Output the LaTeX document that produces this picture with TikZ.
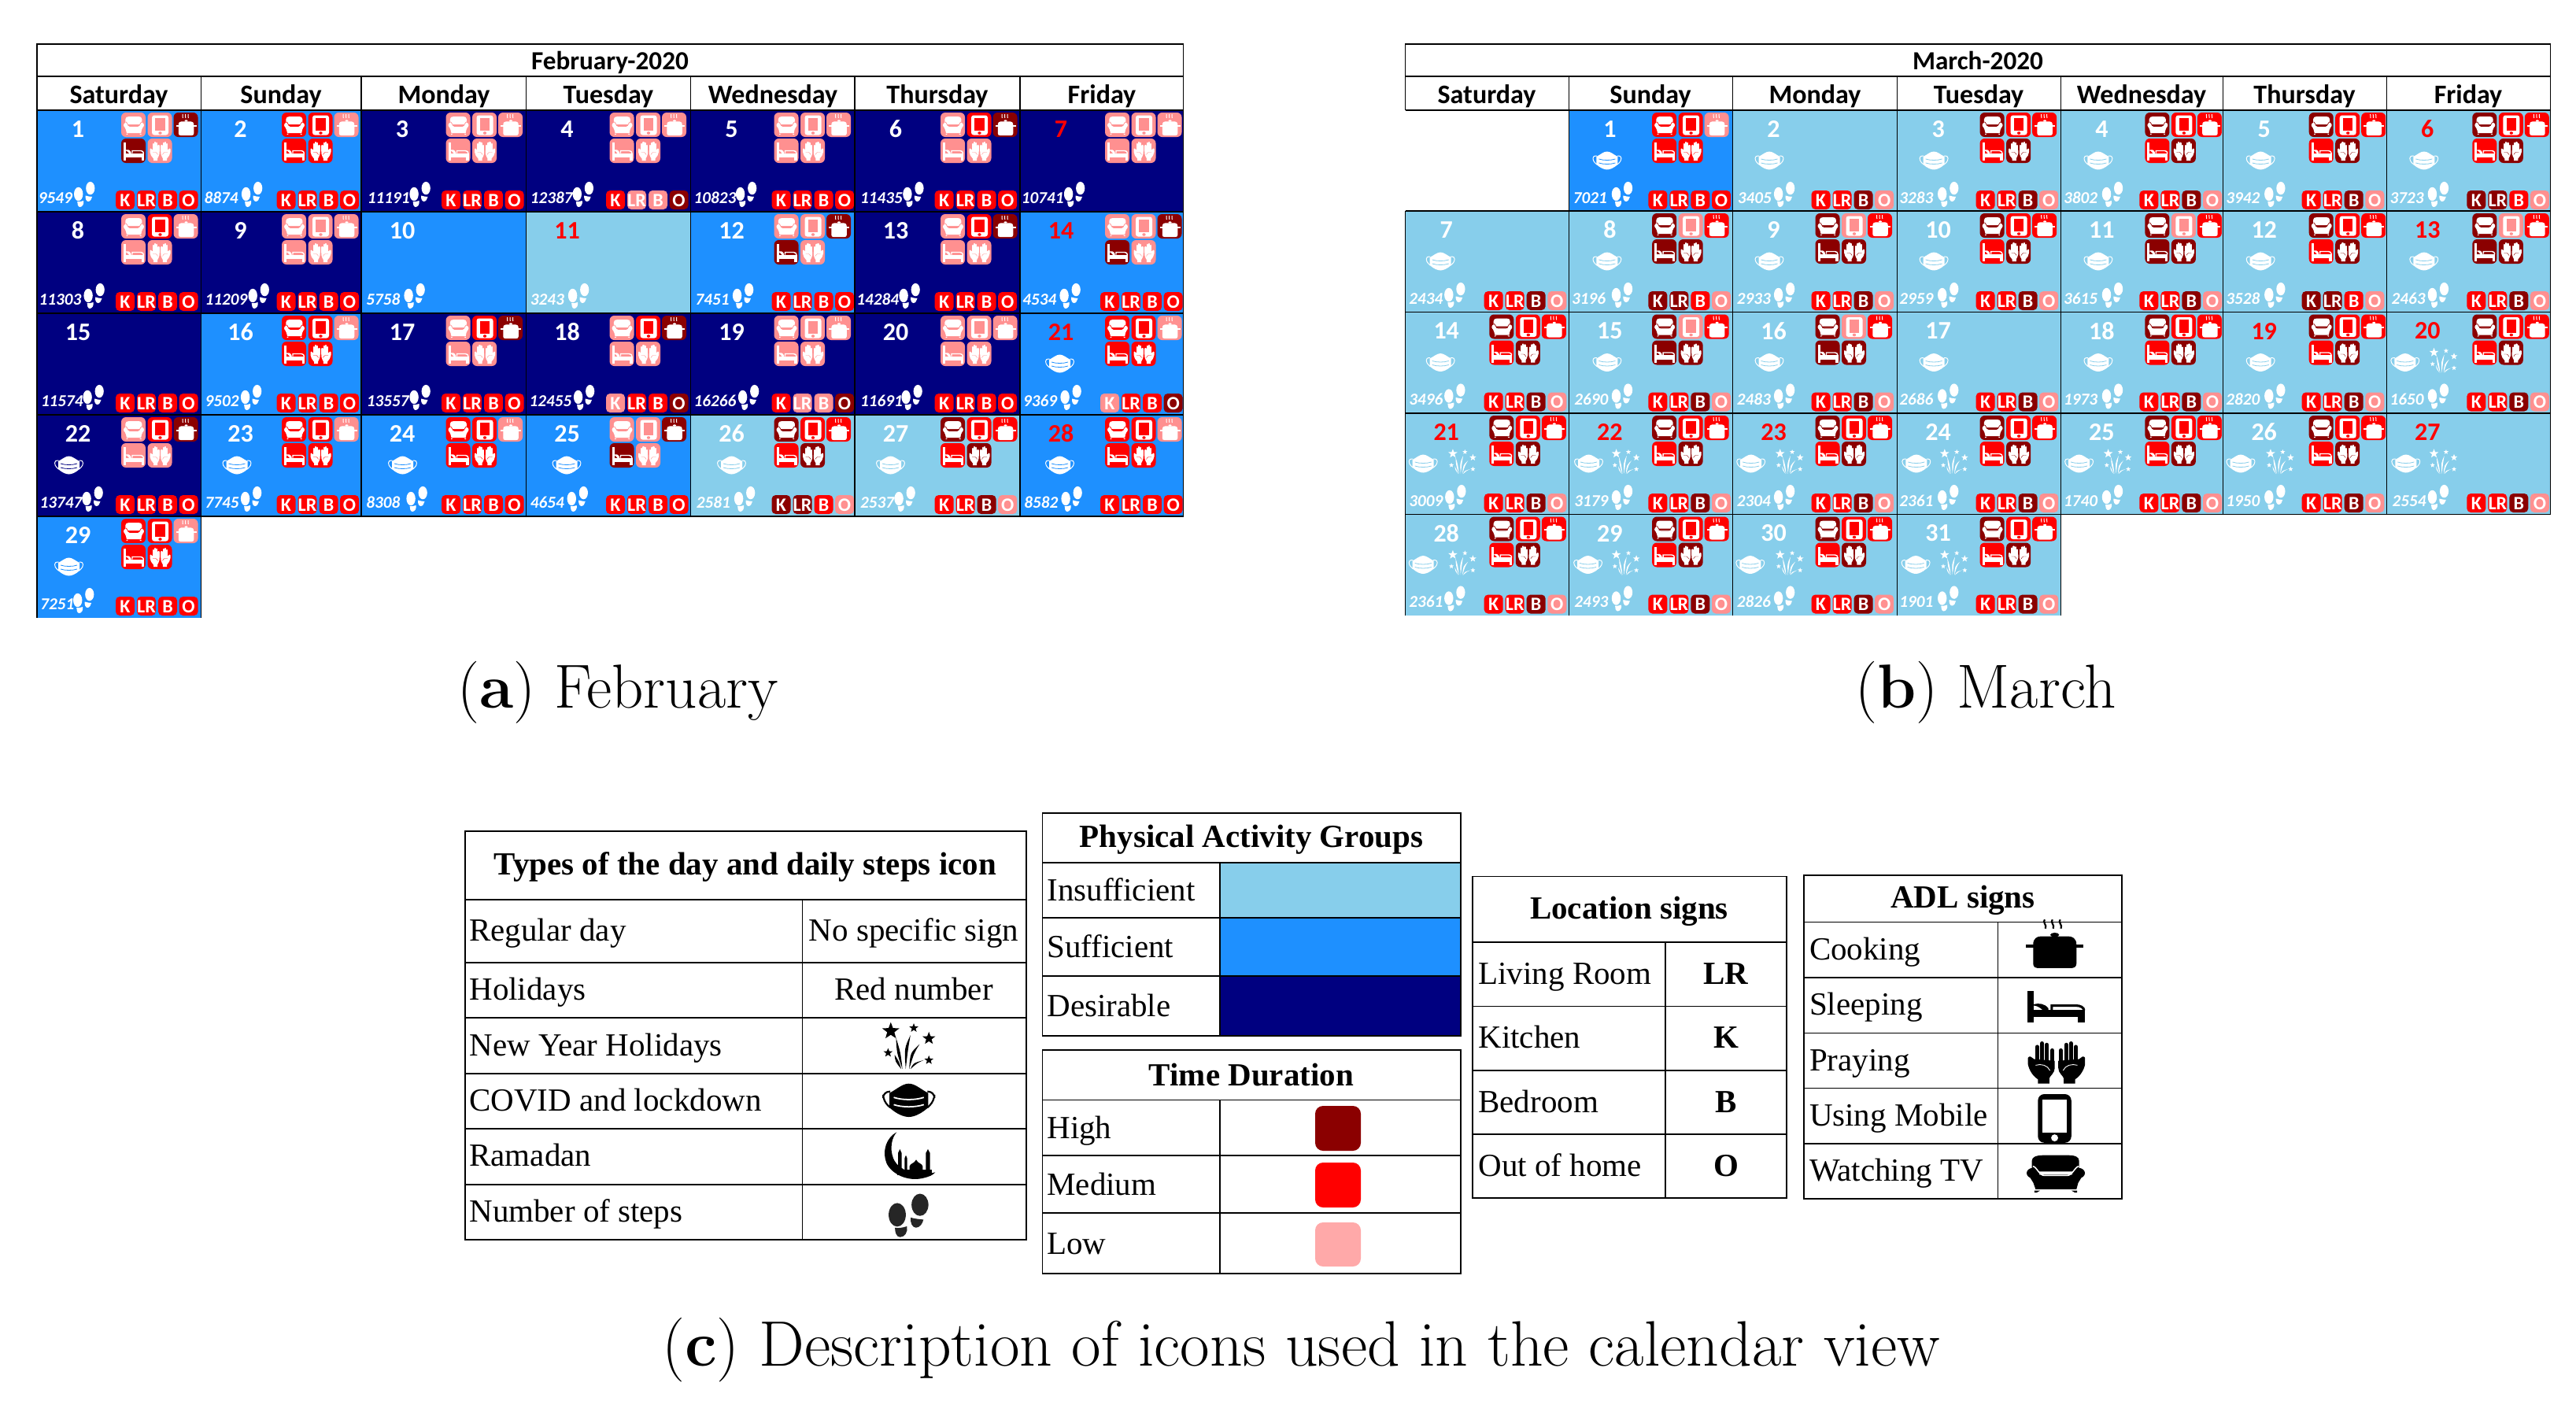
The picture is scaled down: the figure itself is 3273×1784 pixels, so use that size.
\documentclass[tikz,border=0pt]{standalone}
\usepackage{fontspec}
\newfontfamily\calfont{Carlito}
\newfontfamily\tabfont{Liberation Serif}
\definecolor{lvll}{HTML}{FF9090}
\definecolor{lvlm}{HTML}{FF0000}
\definecolor{lvlh}{HTML}{8B0000}
\definecolor{legl}{HTML}{FFA9A9}
\definecolor{I}{HTML}{87CEEB}
\definecolor{S}{HTML}{1E90FF}
\definecolor{D}{HTML}{000080}
\newif\iffw
\def\lw{1}\def\rc{1.5pt}\def\fgc{white}\def\bgc{black}\def\psx{9.8}
% ---------- icons, unit box 32 x 32
\newcommand\icoSofa{%
\fill[\fgc] (5.3,15) -- (5.3,8.5) .. controls (5.3,6) and (7.5,5) .. (10,5) -- (22,5) .. controls (24.5,5) and (26.4,6) .. (26.4,8.5) -- (26.4,15) -- cycle;
\fill[\fgc] (5.9,16) ellipse [x radius=2.9,y radius=3.2];
\fill[\fgc] (26.1,16) ellipse [x radius=2.9,y radius=3.2];
\fill[\fgc] (3.8,17) -- (28.2,17) -- (26,22) -- (25.2,26) -- (7,26) -- (6,22) -- cycle;
\draw[\bgc,line width=\lw*0.35pt] (5.8,11.8) .. controls (7.5,12) and (8.5,17.5) .. (11,17.5) -- (21,17.5) .. controls (23.5,17.5) and (24.5,12) .. (26.3,11.8);
\fill[\fgc] (6.5,26.8) -- (9,26.8) -- (7.5,28) -- (6.5,28) -- cycle;
\fill[\fgc] (25.5,26.8) -- (23,26.8) -- (24.5,28) -- (25.5,28) -- cycle;
}
\newcommand\icoPhone{%
\fill[\fgc,rounded corners=\rc] (5.5,3.5) rectangle (26.5,28.5);
\fill[\bgc] (\psx,6.5) rectangle ({32-\psx},23.4);
\fill[\bgc] (16,26) ellipse [x radius=2.2,y radius=1.8];
}
\newcommand\icoPot{%
\draw[\fgc,line width=\lw*.5pt] (11.5,2) .. controls (10.3,3.5) and (12.7,5) .. (11.8,7);
\draw[\fgc,line width=\lw*.5pt] (15,2) .. controls (13.8,3.5) and (16.2,5) .. (15.3,7);
\draw[\fgc,line width=\lw*.5pt] (18.5,2) .. controls (17.3,3.5) and (19.7,5) .. (18.8,7);
\fill[\fgc] (16,10.5) ellipse [x radius=2,y radius=1.2];
\fill[\fgc] (6.3,15.9) .. controls (6.3,12.5) and (8,11.3) .. (10,11.3) -- (22,11.3) .. controls (24,11.3) and (25.8,12.5) .. (25.8,15.9) -- cycle;
\fill[\fgc] (3,15.9) rectangle (29,17.5);
\fill[\fgc] (6.3,17) -- (25.8,17) -- (25.8,26.5) .. controls (25.8,28.5) and (24.5,29) .. (23,29) -- (9,29) .. controls (7.5,29) and (6.3,28.5) .. (6.3,26.5) -- cycle;
}
\newcommand\icoBed{%
\fill[\fgc] (3,5) rectangle (6,28);
\fill[\fgc] (3,18.8) rectangle (29,24);
\fill[\fgc] (25.7,24) rectangle (29,28);
\draw[\fgc,line width=\lw*.7pt] (14,18.5) -- (14,15.5) -- (25,15.5) .. controls (27,15.5) and (28.5,17) .. (28.5,19);
\fill[\fgc] (6,14.5) .. controls (8,13.5) and (11,14) .. (12.5,17.5) -- (12.5,18.8) -- (10,18.8) .. controls (8.5,16.5) and (7,15.5) .. (6,15.5) -- cycle;
}
\newcommand\icoHand{%
\draw[\fgc,line width=\lw*1.15pt,line cap=round] (7.2,7) -- (7.2,15);
\draw[\fgc,line width=\lw*1.15pt,line cap=round] (9.4,5) -- (9.4,15);
\draw[\fgc,line width=\lw*1.15pt,line cap=round] (11.6,5.8) -- (11.6,15);
\draw[\fgc,line width=\lw*1.15pt,line cap=round] (14,9) -- (14,16);
\fill[\fgc] (5.8,14) -- (15.2,15) -- (15.2,19) .. controls (15.2,22) and (13,23.5) .. (12.7,25) -- (12.7,28) -- (7.5,28) -- (7.5,25.5) .. controls (5,23.5) and (3.5,20) .. (3,17) -- (3,13.3) .. controls (3.5,12) and (4.8,12.5) .. (5.2,13.5) -- cycle;
\draw[\bgc,line width=\lw*.2pt] (6.5,17.5) .. controls (9,16.5) and (12,17.5) .. (13,20.5);
}
\newcommand\icoHands{\icoHand\begin{scope}[shift={(32,0)},xscale=-1]\icoHand\end{scope}}
% feet: box 27 x 32
\newcommand\icoFeet{%
\fill[\fgc] (6.1,15.5) ellipse [x radius=5.7,y radius=8.7];
\fill[\fgc] (4.6,25) .. controls (7,25.5) and (10,25) .. (12.5,24) .. controls (13.5,28) and (11,32) .. (8,32) .. controls (5.5,32) and (4.5,28) .. (4.6,25) -- cycle;
\fill[\fgc] (21.2,8.1) ellipse [x radius=5.6,y radius=8.2];
\fill[\fgc] (15,17.5) .. controls (18,18.5) and (21,18.8) .. (23.5,19) .. controls (23,22) and (21,25) .. (18.5,25) .. controls (16,25) and (14.6,21) .. (15,17.5) -- cycle;
}
% mask: box 37 x 23
\newcommand\icoMask{%
\draw[\fgc,line width=\lw*.5pt,rounded corners=\rc] (5.5,5.5) -- (.6,5.5) -- (.6,12) -- (5.5,16.5);
\draw[\fgc,line width=\lw*.5pt,rounded corners=\rc] (31.5,5.5) -- (36.4,5.5) -- (36.4,12) -- (31.5,16.5);
\fill[\fgc] (5,6.5) .. controls (10,4) and (14,0) .. (18.5,0) .. controls (23,0) and (27,4) .. (32,6.5) -- (32,16.5) .. controls (27,21) and (22,23) .. (18.5,23) .. controls (15,23) and (10,21) .. (5,16.5) -- cycle;
\draw[\bgc,line width=\lw*.4pt] (8,9.5) .. controls (14,11.5) and (23,11.5) .. (29,9.5);
\draw[\bgc,line width=\lw*.4pt] (8,14.5) .. controls (14,16.5) and (23,16.5) .. (29,14.5);
}
% fireworks: box 36 x 32
\newcommand\mystar[3]{\begin{scope}[shift={(#1,#2)}]\fill[\fgc] (-90:#3) -- (-54:#3*.42) -- (-18:#3) -- (18:#3*.42) -- (54:#3) -- (90:#3*.42) -- (126:#3) -- (162:#3*.42) -- (198:#3) -- (234:#3*.42) -- cycle;\end{scope}}
\newcommand\streak[6]{\fill[\fgc] (#1,#2) .. controls ({#3-1.3},#4) .. (#5,#6) .. controls ({#3+1.3},#4) .. (#1,#2) -- cycle;}
\newcommand\icoFire{%
\mystar{6.2}{5.3}{6}\mystar{21.6}{3.2}{3.2}\mystar{31.7}{10.3}{4.5}\mystar{4.4}{20}{3.2}\mystar{31.7}{25}{3.2}%
\streak{14}{31}{11.5}{20}{9.7}{9.8}%
\streak{16.2}{31}{16.5}{17}{19.4}{8}%
\streak{18.5}{31}{20.5}{20}{25.5}{14.2}%
\streak{13.2}{31}{10.5}{26}{8.8}{21.4}%
\streak{19.4}{31}{22.5}{27}{28.2}{25}%
}
% crescent and mosque, drawn in units of a third of a pixel
\newcommand\icoMoon{%
\fill[\fgc] (88,430) .. controls (50,450) and (30,500) .. (50,550) .. controls (70,590) and (130,620) .. (190,605) .. controls (210,600) and (225,595) .. (235,583) .. controls (190,595) and (100,590) .. (75,530) .. controls (60,490) and (70,450) .. (88,430) -- cycle;
\fill[\fgc] (90,572) rectangle (222,595);
\fill[\fgc] (93,575) -- (93,510) -- (100,495) -- (107,510) -- (107,575) -- cycle;
\fill[\fgc] (118,575) -- (118,530) -- (123,518) -- (128,530) -- (128,575) -- cycle;
\fill[\fgc] (199,575) -- (199,510) -- (207,495) -- (215,510) -- (215,575) -- cycle;
\fill[\fgc] (137,575) -- (137,560) .. controls (140,548) and (155,550) .. (162,535) .. controls (169,550) and (184,548) .. (187,560) -- (187,575) -- cycle;
}
% ---------- calendar cell
\newcommand\setcol[4]{\def\cL{#1}\def\cW{#2}\def\ioff{#3}\def\boff{#4}\def\nx{52}}
\newcommand\setrow[2]{\def\cT{#1}\def\cH{#2}}
\newcommand\icobox[4]{\begin{scope}[shift={({#1},#2)}]\def\bgc{lvl#3}\def\fgc{white}\fill[\bgc,rounded corners=3pt] (0,0) rectangle (31,31);#4\end{scope}}
\def\drawicons#1#2#3#4#5{%
\icobox{\ioff}{3}{#1}\icoSofa\icobox{\ioff+33.5}{3}{#2}\icoPhone\icobox{\ioff+66.5}{3}{#3}\icoPot
\icobox{\ioff}{36}{#4}\icoBed\icobox{\ioff+33.5}{36}{#5}\icoHands}
\newcommand\badge[3]{\fill[lvl#3,rounded corners=2.5pt] ({\boff+#1},102) rectangle +(24,24);\node[badgetxt] (\mon\curnum#2) at ({\boff+#1+12},114.5) {#2};}
\def\drawbadges#1#2#3#4{\badge{0}{K}{#1}\badge{27}{LR}{#2}\badge{54}{B}{#3}\badge{80.6}{O}{#4}}
\newcommand\dcell[9]{%
\begin{scope}[shift={(\cL,\cT)}]
\def\bgc{#1}\def\fgc{white}\def\lw{1}\def\curnum{#2}
\fill[#1] (0,0) rectangle (\cW,\cH);
\node[numtxt,text=#3] (\mon#2n) at (\nx,24) {#2};
\def\tmp{#7}\ifx\tmp\empty\else
\begin{scope}[shift={(#7,52.5)}]\icoMask\end{scope}
\iffw\begin{scope}[shift={(54,46)}]\icoFire\end{scope}\fi
\fi
\node[steptxt] (\mon#2s) at (#5,118) {#4};
\begin{scope}[shift={(#6,91)}]\icoFeet\end{scope}
\def\tmp{#8}\ifx\tmp\empty\else\drawicons#8\fi
\def\tmp{#9}\ifx\tmp\empty\else\drawbadges#9\fi
\end{scope}}
\newcommand\legicon[5]{\begin{scope}[shift={(#2,#3)},xscale=#4,yscale=#5]\def\fgc{black}\def\bgc{white}\def\lw{2.2}\def\rc{4pt}\def\psx{8.3}#1\end{scope}}
\newcommand\fA{\setcol{47}{208.5}{107}{100}}
\newcommand\fB{\setcol{255.5}{203.5}{102.5}{96}\def\nx{50}}
\newcommand\fC{\setcol{459}{209.5}{107.5}{102}}
\newcommand\fD{\setcol{668.5}{209}{106}{101.5}}
\newcommand\fE{\setcol{877.5}{208.5}{106}{103}}
\newcommand\fF{\setcol{1086}{210}{109}{101.6}}
\newcommand\fG{\setcol{1296}{207.5}{108}{102}}
\newcommand\mA{\setcol{1785.7}{207.7}{106.6}{100}}
\newcommand\mB{\setcol{1993.4}{208.1}{105.7}{101}}
\newcommand\mC{\setcol{2201.5}{209.1}{105}{100}}
\newcommand\mD{\setcol{2410.6}{207.8}{105}{100}}
\newcommand\mE{\setcol{2618.4}{206.3}{107}{100}}
\newcommand\mF{\setcol{2824.7}{207.6}{109}{100}}
\newcommand\mG{\setcol{3032.3}{208.1}{109}{102}}
\tikzset{
calline/.style={black,line width=.7pt},
tabline/.style={black,line width=.85pt},
numtxt/.style={inner sep=0,font=\calfont\bfseries\fontsize{16}{16}\selectfont},
steptxt/.style={anchor=base west,inner sep=0,text=white,font=\calfont\bfseries\itshape\fontsize{10.6}{10.6}\selectfont},
badgetxt/.style={inner sep=0,text=white,font=\calfont\bfseries\fontsize{12}{12}\selectfont},
caltitle/.style={anchor=base,inner sep=0,font=\calfont\bfseries\fontsize{16.6}{16.6}\selectfont},
calhead/.style={anchor=base,inner sep=0,font=\calfont\bfseries\fontsize{17}{17}\selectfont},
tabtxt/.style={anchor=base west,inner sep=0,font=\tabfont\fontsize{20.5}{20.5}\selectfont},
tabmid/.style={anchor=base,inner sep=0,font=\tabfont\fontsize{20.5}{20.5}\selectfont},
tabhead/.style={anchor=base,inner sep=0,font=\tabfont\bfseries\fontsize{20.5}{20.5}\selectfont},
capt/.style={anchor=base,inner sep=0,font=\fontsize{39.5}{39.5}\selectfont},
captwide/.style={anchor=base,inner sep=0,font=\fontsize{40.8}{40.8}\selectfont},
}
\begin{document}
\begin{tikzpicture}[x=.5pt,y=-.5pt]
\useasboundingbox (0,0) rectangle (3273,1784);
% ===== February
\def\mon{f}
\setrow{140}{129}
\fA\dcell{S}{1}{white}{9549}{1.4}{46.6}{}{llhhl}{mmmm}
\fB\dcell{S}{2}{white}{8874}{3.7}{51}{}{mmlmm}{mmmm}
\fC\dcell{D}{3}{white}{11191}{7.4}{61}{}{lllll}{mmmm}
\fD\dcell{D}{4}{white}{12387}{5}{58.7}{}{lllll}{mllh}
\fE\dcell{D}{5}{white}{10823}{3.8}{57}{}{lllll}{mmmm}
\fF\dcell{D}{6}{white}{11435}{6.7}{60.8}{}{lmhll}{mmmm}
\fG\dcell{D}{7}{red}{10741}{1.4}{55.5}{}{lllll}{}
\setrow{269}{129}
\fA\dcell{D}{8}{white}{11303}{2.3}{59}{}{lmlll}{mmmm}
\fB\dcell{D}{9}{white}{11209}{4.7}{59.6}{}{lllll}{mmmm}
\fC\dcell{S}{10}{white}{5758}{6}{54}{}{}{}
\fD\dcell{I}{11}{red}{3243}{5}{53}{}{}{}
\fE\dcell{S}{12}{white}{7451}{5.7}{53}{}{llhhl}{mmmm}
\fF\dcell{D}{13}{white}{14284}{2}{56}{}{lmhll}{mmmm}
\fG\dcell{S}{14}{red}{4534}{3}{50}{}{llhhl}{mmmm}
\setrow{398}{129}
\fA\dcell{D}{15}{white}{11574}{4.6}{58}{}{}{mmmm}
\fB\dcell{S}{16}{white}{9502}{4.7}{50}{}{mmlmm}{mmmm}
\fC\dcell{D}{17}{white}{13557}{6.5}{61}{}{lmhll}{mmmm}
\fD\dcell{D}{18}{white}{12455}{3.7}{60}{}{lmhll}{lmmh}
\fE\dcell{D}{19}{white}{16266}{3.8}{60}{}{lllll}{mllh}
\fF\dcell{D}{20}{white}{11691}{6.7}{59}{}{lllll}{mmmm}
\fG\dcell{S}{21}{red}{9369}{3.8}{51}{32}{mmlmm}{lmmh}
\setrow{527}{129}
\fA\dcell{D}{22}{white}{13747}{3.3}{57}{22}{lmhll}{mmmm}
\fB\dcell{S}{23}{white}{7745}{4.7}{50}{27}{mmlmm}{mmmm}
\fC\dcell{S}{24}{white}{8308}{6}{57}{34}{mmlmm}{mmmm}
\fD\dcell{S}{25}{white}{4654}{5}{51.7}{33}{llhhl}{mmmm}
\fE\dcell{I}{26}{white}{2581}{7}{55}{33.5}{hmmmh}{hhml}
\fF\dcell{I}{27}{white}{2537}{6.7}{50}{27}{hmmmh}{mmhl}
\fG\dcell{S}{28}{red}{8582}{5}{52}{32}{mmlmm}{mmmm}
\setrow{656}{129}
\fA\dcell{S}{29}{white}{7251}{4}{45.6}{22}{mmlmm}{mmmm}
% grid
\draw[calline] (47,785) -- (47,56) -- (1503.5,56) -- (1503.5,656);
\foreach \yy in {97,140,269,398,527,656} \draw[calline] (47,\yy) -- (1503.5,\yy);
\draw[calline] (255.5,97) -- (255.5,785);
\foreach \xx in {459,668.5,877.5,1086,1296} \draw[calline] (\xx,97) -- (\xx,656);
\node[caltitle] (fTitle) at (775,88) {February-2020};
\node[calhead] (fSat) at (151,131) {Saturday};
\node[calhead] (fSun) at (357,131) {Sunday};
\node[calhead] (fMon) at (564,131) {Monday};
\node[calhead] (fTue) at (773,131) {Tuesday};
\node[calhead] (fWed) at (982,131) {Wednesday};
\node[calhead] (fThu) at (1191,131) {Thursday};
\node[calhead] (fFri) at (1400,131) {Friday};
% ===== March
\def\mon{m}
\setrow{140}{128}
\mB\dcell{S}{1}{white}{7021}{5}{54}{30}{mmlmm}{mmmm}
\mC\dcell{I}{2}{white}{3405}{6}{52}{28}{}{mmhl}
\mD\dcell{I}{3}{white}{3283}{2.4}{51}{28}{hmmmh}{mmhl}
\mE\dcell{I}{4}{white}{3802}{3.3}{52}{29}{hmmmh}{mmhl}
\mF\dcell{I}{5}{white}{3942}{3.3}{52}{29}{hmmmh}{mmhl}
\mG\dcell{I}{6}{red}{3723}{3.8}{52}{29}{hmmmh}{hhml}
\setrow{268}{128.5}
\mA\dcell{I}{7}{white}{2434}{4.2}{49}{26}{}{mmhl}
\mB\dcell{I}{8}{white}{3196}{3.3}{54}{30}{hlmhh}{hhml}
\mC\dcell{I}{9}{white}{2933}{5}{52}{28}{hlmhh}{mmhl}
\mD\dcell{I}{10}{white}{2959}{2.4}{51}{28}{hmmmh}{mmhl}
\mE\dcell{I}{11}{white}{3615}{3.3}{52}{29}{hlmhh}{mmhl}
\mF\dcell{I}{12}{white}{3528}{3.3}{52}{29}{hmmmh}{hhml}
\mG\dcell{I}{13}{red}{2463}{6}{52}{29}{hlmhh}{mmhl}
\setrow{396.5}{128.5}
\mA\dcell{I}{14}{white}{3496}{4.2}{49}{26}{hmmmh}{mmhl}
\mB\dcell{I}{15}{white}{2690}{6.6}{54}{30}{hlmhh}{mmhl}
\mC\dcell{I}{16}{white}{2483}{5}{52}{28}{hlmhh}{mmhl}
\mD\dcell{I}{17}{white}{2686}{2.4}{51}{28}{}{mmhl}
\mE\dcell{I}{18}{white}{1973}{3.3}{52}{29}{hmmmh}{mmhl}
\mF\dcell{I}{19}{red}{2820}{3.3}{52}{29}{hmmmh}{mmhl}
\fwtrue
\mG\dcell{I}{20}{red}{1650}{3.8}{52}{5}{hmmmh}{mmhl}
\setrow{525}{128.5}
\mA\dcell{I}{21}{red}{3009}{4.2}{50}{4}{hmmmh}{mmhl}
\mB\dcell{I}{22}{red}{3179}{6.6}{54}{6.6}{hmmmh}{mmhl}
\mC\dcell{I}{23}{red}{2304}{5}{52}{4.7}{hmmmh}{mmhl}
\mD\dcell{I}{24}{white}{2361}{2.4}{51}{5.7}{hmmmh}{mmhl}
\mE\dcell{I}{25}{white}{1740}{3.3}{52}{4.7}{hmmmh}{mmhl}
\mF\dcell{I}{26}{white}{1950}{3.3}{52}{3.8}{hmmmh}{mmhl}
\mG\dcell{I}{27}{red}{2554}{7}{52}{6}{}{mmhl}
\setrow{653.5}{128}
\mA\dcell{I}{28}{white}{2361}{4.2}{49}{4}{hmmmh}{mmhl}
\mB\dcell{I}{29}{white}{2493}{6.6}{54}{5.7}{hmmmh}{mmhl}
\mC\dcell{I}{30}{white}{2826}{5}{52}{3.8}{hmmmh}{mmhl}
\mD\dcell{I}{31}{white}{1901}{2.4}{51}{5}{hmmmh}{mmhl}
\fwfalse
\draw[calline] (1785.7,140) -- (1785.7,56) -- (3240.4,56) -- (3240.4,653.5);
\draw[calline] (1785.7,268) -- (1785.7,781.5);
\foreach \yy in {97,140,268,396.5,525,653.5} \draw[calline] (1785.7,\yy) -- (3240.4,\yy);
\foreach \xx in {1993.4,2201.5,2410.6,2618.4} \draw[calline] (\xx,97) -- (\xx,781.5);
\foreach \xx in {2824.7,3032.3} \draw[calline] (\xx,97) -- (\xx,653.5);
\node[caltitle] (mTitle) at (2513,88) {March-2020};
\node[calhead] (mSat) at (1889,131) {Saturday};
\node[calhead] (mSun) at (2097,131) {Sunday};
\node[calhead] (mMon) at (2306,131) {Monday};
\node[calhead] (mTue) at (2514,131) {Tuesday};
\node[calhead] (mWed) at (2721,131) {Wednesday};
\node[calhead] (mThu) at (2928,131) {Thursday};
\node[calhead] (mFri) at (3136,131) {Friday};
% ===== captions
\node[capt] (capA) at (785,899) {(\textbf{a}) February};
\node[capt] (capB) at (2523,899) {(\textbf{b}) March};
\node[captwide] (capC) at (1653,1735) {(\textbf{c}) Description of icons used in the calendar view};
% ===== legend 1: types of the day
\draw[tabline] (590.7,1056) rectangle (1303.7,1575);
\foreach \yy in {1143,1223,1293,1364,1434,1505} \draw[tabline] (590.7,\yy) -- (1303.7,\yy);
\draw[tabline] (1019.6,1143) -- (1019.6,1575);
\node[tabhead] (t1Head) at (947,1111) {Types of the day and daily steps icon};
\node[tabtxt] (t1a) at (596,1195) {Regular day};
\node[tabmid] (t1aa) at (1161,1195) {No specific sign};
\node[tabtxt] (t1b) at (596,1270) {Holidays};
\node[tabmid] (t1bb) at (1161,1270) {Red number};
\node[tabtxt] (t1c) at (596,1341) {New Year Holidays};
\node[tabtxt] (t1d) at (596,1411) {COVID and lockdown};
\node[tabtxt] (t1e) at (596,1481) {Ramadan};
\node[tabtxt] (t1f) at (596,1552) {Number of steps};
\legicon{\icoFire}{1120}{1300}{1.9}{1.875}
\legicon{\icoMask}{1121}{1376.7}{1.82}{1.84}
\legicon{\icoMoon}{1110}{1295}{.3333}{.3333}
\def\fgc{black!85}
\begin{scope}[shift={(1128.3,1516.7)},xscale=1.915,yscale=1.72]\icoFeet\end{scope}
\def\fgc{white}
% ===== legend 2: physical activity
\fill[I] (1550,1096) rectangle (1855.7,1166);
\fill[S] (1550,1166) rectangle (1855.7,1240);
\fill[D] (1550,1240) rectangle (1855.7,1316);
\draw[tabline] (1324.5,1033) rectangle (1855.7,1316);
\foreach \yy in {1096,1166,1240} \draw[tabline] (1324.5,\yy) -- (1855.7,\yy);
\draw[tabline] (1550,1096) -- (1550,1316);
\node[tabhead] (t2Head) at (1590,1076) {Physical Activity Groups};
\node[tabtxt] (t2a) at (1330,1144) {Insufficient};
\node[tabtxt] (t2b) at (1330,1216) {Sufficient};
\node[tabtxt] (t2c) at (1330,1291) {Desirable};
% ===== legend 3: time duration
\draw[tabline] (1324.5,1334) rectangle (1855.7,1618);
\foreach \yy in {1397.6,1468,1541} \draw[tabline] (1324.5,\yy) -- (1855.7,\yy);
\draw[tabline] (1550,1397.6) -- (1550,1618);
\node[tabhead] (t3Head) at (1590,1379) {Time Duration};
\node[tabtxt] (t3a) at (1330,1446) {High};
\node[tabtxt] (t3b) at (1330,1518) {Medium};
\node[tabtxt] (t3c) at (1330,1593) {Low};
\fill[lvlh,rounded corners=5pt] (1671,1405) rectangle (1729,1462);
\fill[lvlm,rounded corners=5pt] (1671,1477) rectangle (1729,1534);
\fill[legl,rounded corners=5pt] (1671,1553) rectangle (1729,1609);
% ===== legend 4: location
\draw[tabline] (1871,1113.4) rectangle (2270,1521.7);
\foreach \yy in {1197,1278.6,1360,1441} \draw[tabline] (1871,\yy) -- (2270,\yy);
\draw[tabline] (2116,1197) -- (2116,1521.7);
\node[tabhead] (t4Head) at (2070,1167) {Location signs};
\node[tabtxt] (t4a) at (1878,1250) {Living Room};
\node[tabtxt] (t4b) at (1878,1331) {Kitchen};
\node[tabtxt] (t4c) at (1878,1413) {Bedroom};
\node[tabtxt] (t4d) at (1878,1494) {Out of home};
\node[tabhead] (t4aa) at (2193,1250) {LR};
\node[tabhead] (t4bb) at (2193,1331) {K};
\node[tabhead] (t4cc) at (2193,1413) {B};
\node[tabhead] (t4dd) at (2193,1494) {O};
% ===== legend 5: ADL
\draw[tabline] (2292,1112) rectangle (2696,1523);
\foreach \yy in {1171.5,1242,1312.6,1382.6,1453} \draw[tabline] (2292,\yy) -- (2696,\yy);
\draw[tabline] (2538.5,1171.5) -- (2538.5,1523);
\node[tabhead] (t5Head) at (2494,1153) {ADL signs};
\node[tabtxt] (t5a) at (2298.6,1219) {Cooking};
\node[tabtxt] (t5b) at (2298.6,1289) {Sleeping};
\node[tabtxt] (t5c) at (2298.6,1360) {Praying};
\node[tabtxt] (t5d) at (2298.6,1430) {Using Mobile};
\node[tabtxt] (t5e) at (2298.6,1500) {Watching TV};
\legicon{\icoPot}{2565.5}{1163.7}{2.82}{2.285}
\legicon{\icoBed}{2567.2}{1250.6}{2.83}{1.74}
\legicon{\icoHands}{2568.3}{1314.4}{2.79}{2.225}
\legicon{\icoPhone}{2578.2}{1381.4}{2.02}{2.47}
\legicon{\icoSofa}{2566.4}{1457.4}{2.85}{2.06}
\end{tikzpicture}
\end{document}
